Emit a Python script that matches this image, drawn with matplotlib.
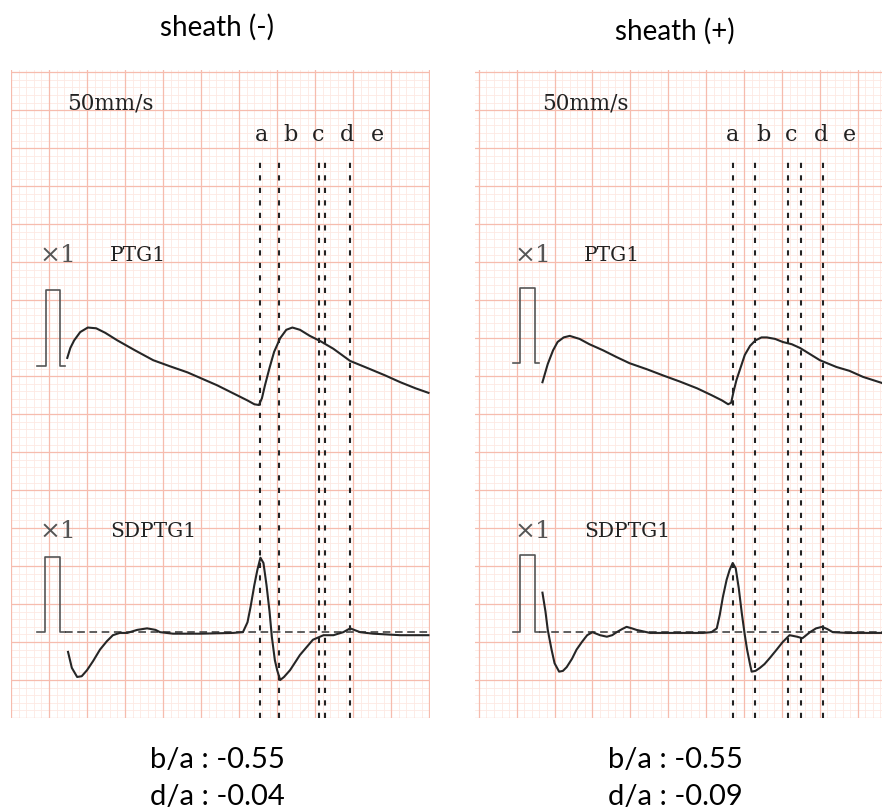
import matplotlib.pyplot as plt
import numpy as np

## chart paper: 1 small square = 1 mm, big square = 5 mm

### sheath (-) traces (x = mm along paper, y = mm up from bottom)
ptg_neg_x = [7.4, 7.8, 8.3, 9.1, 10.1, 11.2, 12.4, 14.0, 16.3, 18.7, 20.9, 23.2, 27.1, 31.1, 32.0, 32.6,
             33.0, 33.4, 34.0, 34.6, 35.4, 36.2, 37.0, 38.0, 39.3, 40.7, 42.4, 44.6, 46.8, 49.2, 51.2, 53.2, 54.9]
ptg_neg_y = [47.4, 48.7, 49.7, 50.8, 51.4, 51.3, 50.7, 49.7, 48.4, 47.1, 46.3, 45.5, 43.8, 41.8, 41.3, 41.2,
             42.1, 43.8, 46.1, 48.2, 50.0, 51.1, 51.4, 51.1, 50.3, 49.6, 48.6, 47.0, 46.1, 45.1, 44.2, 43.4, 42.8]
sdptg_neg_x = [7.5, 8.0, 8.7, 9.3, 10.0, 10.8, 11.7, 12.6, 13.4, 14.3, 15.3, 16.6, 17.9, 19.0, 19.6, 21.3,
               24.9, 29.2, 30.5, 31.1, 31.5, 32.0, 32.4, 32.8, 33.2, 33.6, 34.0, 34.3, 34.7, 35.0, 35.4, 35.9,
               36.7, 38.0, 39.7, 41.1, 42.4, 43.7, 44.6, 45.9, 47.6, 51.2, 54.9]
sdptg_neg_y = [8.7, 6.6, 5.4, 5.5, 6.3, 7.5, 9.0, 10.1, 10.9, 11.2, 11.2, 11.6, 11.8, 11.6, 11.3, 11.1,
               11.1, 11.2, 11.3, 12.6, 14.6, 17.5, 19.5, 21.1, 20.4, 17.5, 14.0, 10.7, 7.6, 6.3, 5.0, 5.4,
               6.3, 8.3, 10.3, 10.9, 10.9, 11.3, 11.8, 11.3, 11.1, 10.9, 10.9]
marks_neg = [32.8, 35.3, 40.5, 41.3, 44.6]
labels_neg_x = [33.0, 36.7, 40.4, 44.2, 48.2]

### sheath (+) traces
ptg_pos_x = [8.4, 9.1, 9.8, 10.4, 11.2, 12.0, 13.3, 14.6, 16.4, 18.2, 19.9, 22.2, 24.3, 26.5, 28.8, 30.7,
             32.1, 32.9, 33.3, 33.6, 34.0, 34.6, 35.1, 35.8, 36.5, 37.3, 38.0, 39.1, 40.1, 41.3, 42.4, 43.7,
             45.0, 47.2, 48.9, 50.7, 53.2]
ptg_pos_y = [44.2, 46.6, 48.4, 49.5, 50.1, 50.3, 49.9, 49.2, 48.4, 47.5, 46.7, 45.9, 45.1, 44.3, 43.4, 42.5,
             41.8, 41.3, 41.5, 42.9, 44.5, 46.3, 47.8, 49.0, 49.7, 50.1, 50.1, 49.9, 49.5, 49.2, 48.7, 47.9,
             47.1, 46.2, 45.7, 44.9, 44.1]
sdptg_pos_x = [8.4, 8.8, 9.1, 9.6, 10.0, 10.6, 11.1, 11.6, 12.3, 12.9, 13.6, 14.3, 15.0, 16.0, 16.9, 17.6,
               18.2, 18.9, 19.5, 20.2, 20.8, 22.6, 25.2, 29.6, 30.7, 31.4, 31.8, 32.2, 32.7, 33.1, 33.5, 33.9,
               34.3, 34.7, 35.1, 35.4, 35.8, 36.0, 36.5, 37.1, 37.7, 38.4, 39.3, 40.1, 41.0, 42.0, 42.7, 43.7,
               44.5, 45.3, 46.0, 46.7, 48.6, 53.2]
sdptg_pos_y = [16.5, 14.0, 11.6, 9.0, 7.2, 6.1, 6.2, 6.7, 7.8, 9.0, 10.0, 10.9, 11.3, 10.9, 10.7, 10.9,
               11.3, 11.7, 12.0, 11.8, 11.6, 11.2, 11.2, 11.2, 11.3, 11.8, 13.6, 15.9, 18.2, 19.5, 20.4, 19.7,
               17.1, 13.8, 10.9, 9.0, 7.0, 6.1, 6.2, 6.6, 7.1, 7.9, 9.0, 10.0, 10.9, 10.7, 10.5, 11.3,
               11.8, 12.0, 11.7, 11.3, 11.2, 11.2]
marks_pos = [33.5, 36.4, 40.8, 42.5, 45.4]
labels_pos_x = [33.5, 37.5, 41.2, 45.1, 48.9]

wave_names = ['a', 'b', 'c', 'd', 'e']
titles = ['sheath (-)', 'sheath (+)']
ratio_text = [['b/a : -0.55', 'd/a : -0.04'], ['b/a : -0.55', 'd/a : -0.09']]

# calibration pulses (x of base start, leg left, leg right, base end), levels
cal_neg = dict(x=[3.4, 4.6, 6.5, 7.1], ptg=(46.4, 56.3), sd_x=[3.4, 4.5, 6.5, 7.1], sd=(11.3, 21.2))
cal_pos = dict(x=[4.5, 5.4, 7.4, 8.0], ptg=(46.7, 56.6), sd_x=[4.5, 5.5, 7.4, 8.0], sd=(11.3, 21.5))

trace_col = '#262626'
serif = ['DejaVu Serif']
sans = ['Lato', 'DejaVu Sans']
major_col = '#f6bcae'
minor_col = '#fde9e3'

fig = plt.figure(figsize=(8.82, 8.10), dpi=100)


def paper(ax, xlim):
    x0, x1 = xlim
    for v in np.arange(np.ceil(x0), x1 + 0.01, 1):
        major = abs(v % 5) < 1e-6
        ax.axvline(v, color=major_col if major else minor_col, lw=0.9 if major else 0.6, zorder=1 if major else 0)
    for v in np.arange(0, 85.5, 1):
        major = abs(v % 5) < 1e-6
        ax.axhline(v, color=major_col if major else minor_col, lw=0.9 if major else 0.6, zorder=1 if major else 0)


def panel(rect, xlim, ptg_x, ptg_y, sd_x, sd_y, marks, lab_x, cal, txt_x, title_y, title, ratios):
    ax = fig.add_axes(rect)
    ax.set_xlim(*xlim)
    ax.set_ylim(0, 85.3)
    ax.axis('off')
    paper(ax, xlim)

    # calibration pulses
    xs = cal['x']
    lo, hi = cal['ptg']
    ax.plot([xs[0], xs[1], xs[1], xs[2], xs[2], xs[3]], [lo, lo, hi, hi, lo, lo], color='#555555', lw=1.2, zorder=3)
    xs = cal['sd_x']
    lo, hi = cal['sd']
    ax.plot([xs[0], xs[1], xs[1], xs[2], xs[2], xs[3]], [lo, lo, hi, hi, lo, lo], color='#555555', lw=1.2, zorder=3)
    ax.plot([xs[3], xlim[1]], [lo, lo], color='#333333', lw=1.1, ls=(0, (5, 3)), zorder=3)

    ax.plot(ptg_x, ptg_y, color=trace_col, lw=1.5, zorder=4)
    ax.plot(sd_x, sd_y, color=trace_col, lw=1.5, zorder=4)

    for m in marks:
        ax.plot([m, m], [0, 73.4], color='#222222', lw=1.5, ls=(0, (2.5, 3.5)), zorder=3)
    for lx, nm in zip(lab_x, wave_names):
        ax.text(lx, 76.8, nm, ha='center', va='center', fontsize=16, family=serif, color='#222222')

    ax.text(txt_x, 80.9, '50mm/s', ha='left', va='center', fontsize=15.5, family=serif, color='#222222')
    ax.text(txt_x - 3.6, 60.9, '×1', ha='left', va='center', fontsize=18, family=serif, color='#555555')
    ax.text(txt_x + 5.6, 60.9, 'PTG1', ha='left', va='center', fontsize=14.5, family=serif, color='#222222')
    ax.text(txt_x - 3.6, 24.6, '×1', ha='left', va='center', fontsize=18, family=serif, color='#555555')
    ax.text(txt_x + 5.6, 24.6, 'SDPTG1', ha='left', va='center', fontsize=14.5, family=serif, color='#222222')

    cx = rect[0] + rect[2] / 2 - 0.004
    fig.text(cx, title_y, title, ha='center', va='center', fontsize=20, family=sans)
    fig.text(cx, 1 - 760 / 810, ratios[0], ha='center', va='center', fontsize=21, family=sans)
    fig.text(cx, 1 - 797 / 810, ratios[1], ha='center', va='center', fontsize=21, family=sans)
    return ax


panel([11 / 882, 1 - 718 / 810, 419 / 882, 648 / 810], (0, 55.1), ptg_neg_x, ptg_neg_y, sdptg_neg_x, sdptg_neg_y,
      marks_neg, labels_neg_x, cal_neg, 7.4, 1 - 27 / 810, titles[0], ratio_text[0])
panel([475 / 882, 1 - 718 / 810, 407 / 882, 648 / 810], (-0.5, 53.2), ptg_pos_x, ptg_pos_y, sdptg_pos_x, sdptg_pos_y,
      marks_pos, labels_pos_x, cal_pos, 8.3, 1 - 31 / 810, titles[1], ratio_text[1])

plt.savefig('out.png', dpi=100)
